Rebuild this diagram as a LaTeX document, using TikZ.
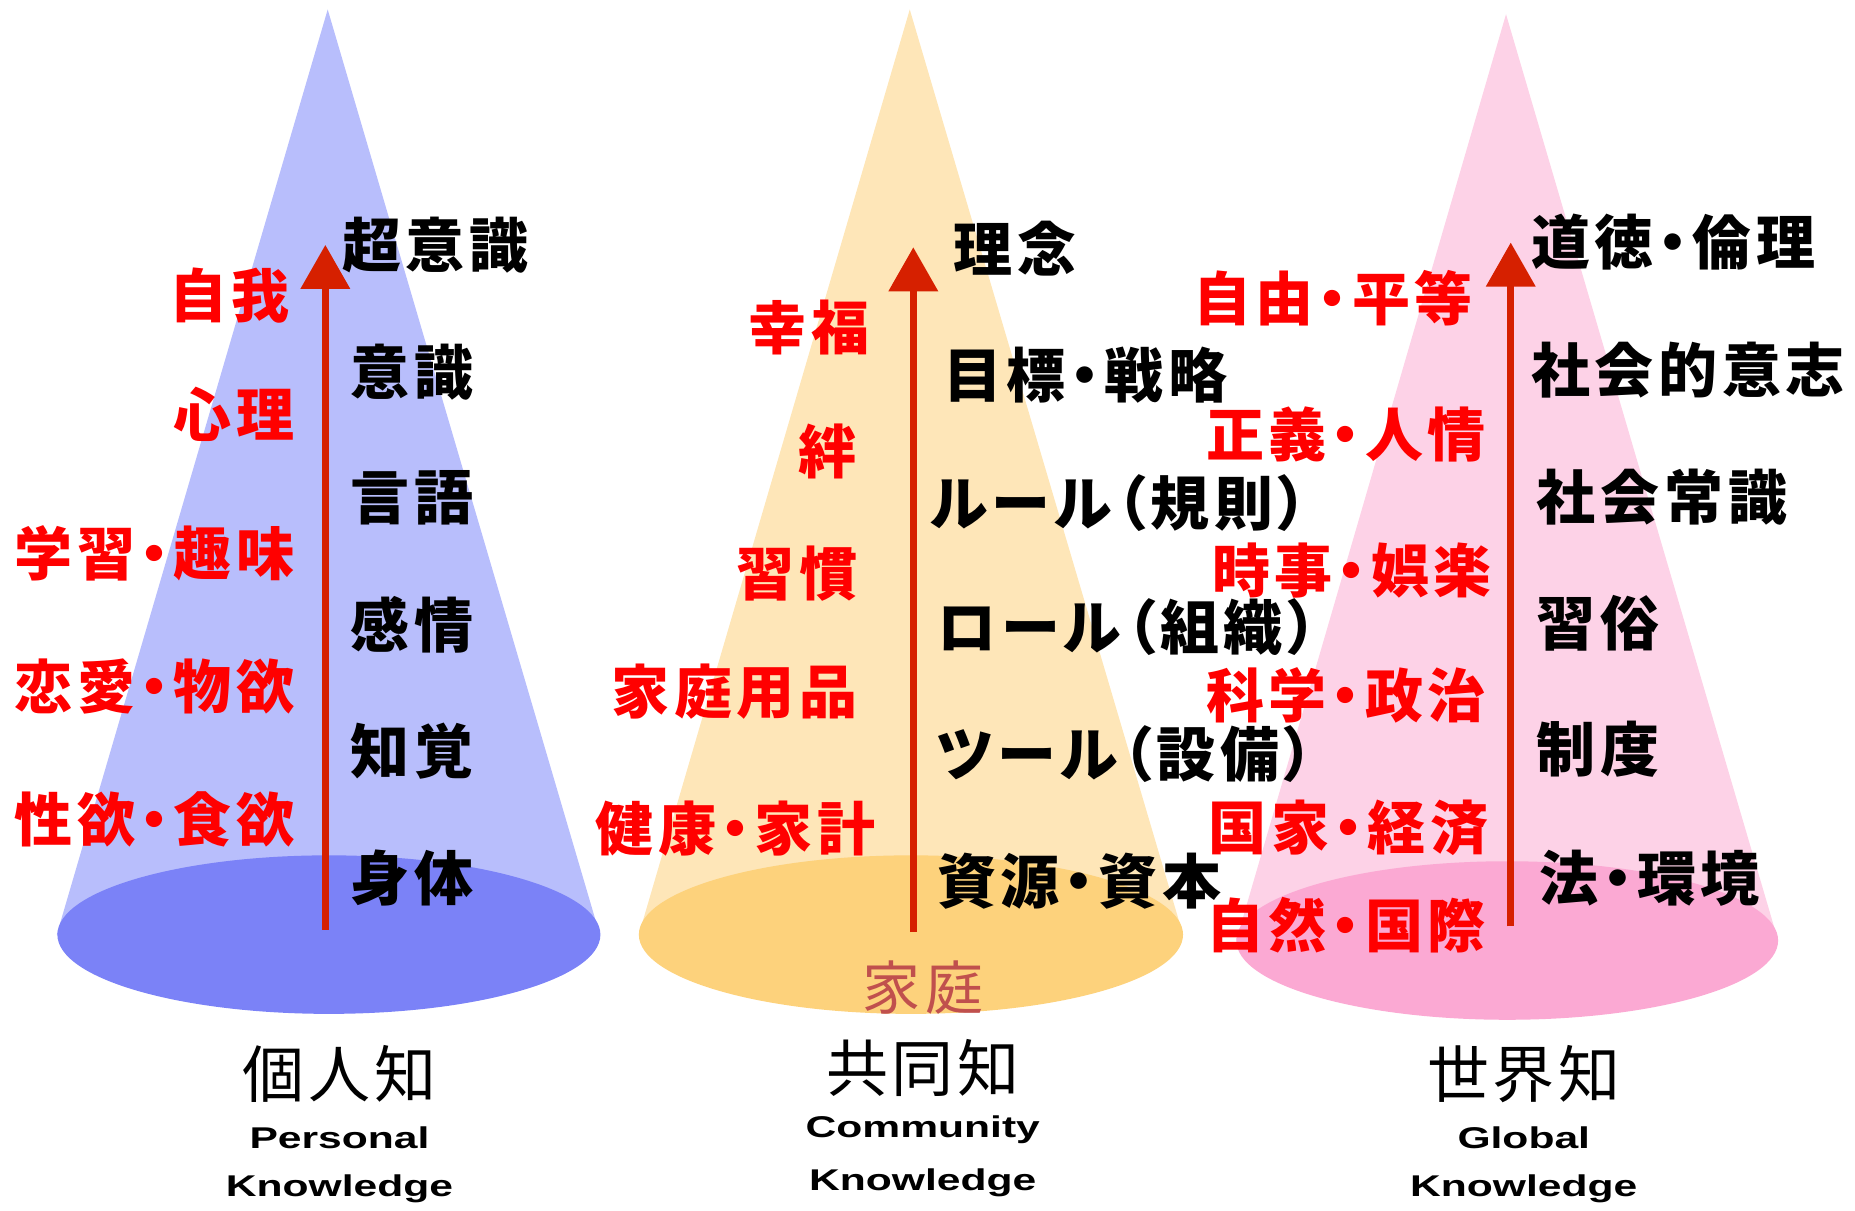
\documentclass[tikz,border=0pt]{standalone}
\usepackage{fontspec}
\usetikzlibrary{arrows.meta}
\newfontfamily\jp[LetterSpace=8,RawFeature=+palt]{Noto Sans CJK JP}
\newfontfamily\jpt[LetterSpace=6]{Noto Sans CJK JP}
\newfontfamily\en{Liberation Sans}
\definecolor{conea}{HTML}{B8BEFC}
\definecolor{basea}{HTML}{7B82F7}
\definecolor{coneb}{HTML}{FEE6B8}
\definecolor{baseb}{HTML}{FDD27C}
\definecolor{conec}{HTML}{FDD2E7}
\definecolor{basec}{HTML}{FBA9D3}
\definecolor{arrred}{HTML}{D62000}
\definecolor{txtred}{HTML}{FF0000}
\definecolor{homec}{HTML}{C0504D}
\begin{document}
\begin{tikzpicture}[x=1.18304pt,y=-1.18304pt,
  redlbl/.style={anchor=east,inner sep=0pt,text=txtred,font=\jp\bfseries\fontsize{58}{60}\selectfont},
  blklbl/.style={anchor=west,inner sep=0pt,text=black,font=\jp\bfseries\fontsize{59}{60}\selectfont},
  title/.style={inner sep=0pt,font=\jpt\fontsize{62}{64}\selectfont},
  sub/.style={inner sep=0pt,xscale=1.42,font=\en\bfseries\fontsize{30}{32}\selectfont},
  arr/.style={draw=arrred,line width=7pt,-{Triangle[width=48pt,length=44pt]}}]
\useasboundingbox (0,0) rectangle (1568,1023);
% cones
\fill[conea] (277,8) -- (48,790) -- (507,790) -- cycle;
\fill[basea] (278,790) ellipse [x radius=229.5, y radius=67];
\fill[coneb] (769,8) -- (540,790) -- (1000,790) -- cycle;
\fill[baseb] (770,790) ellipse [x radius=230, y radius=67];
\fill[conec] (1273,12) -- (1045,795) -- (1503,795) -- cycle;
\fill[basec] (1274,795) ellipse [x radius=229, y radius=67];
% arrows
\coordinate (a1s) at (275,786);
\coordinate (a1e) at (275,207);
\coordinate (a2s) at (772,788);
\coordinate (a2e) at (772,209);
\coordinate (a3s) at (1277,783);
\coordinate (a3e) at (1277,205);
\draw[arr] (a1s) -- (a1e);
\draw[arr] (a2s) -- (a2e);
\draw[arr] (a3s) -- (a3e);
% cone 1
\node[blklbl] (p1) at (289,207) {超意識};
\node[blklbl] (p2) at (296,315) {意識};
\node[blklbl] (p3) at (296,421) {言語};
\node[blklbl] (p4) at (296,528) {感情};
\node[blklbl] (p5) at (296,635) {知覚};
\node[blklbl] (p6) at (296,742) {身体};
\node[redlbl] (r1) at (245,250) {自我};
\node[redlbl] (r2) at (249,350) {心理};
\node[redlbl] (r3) at (249,468) {学習・趣味};
\node[redlbl] (r4) at (249,580) {恋愛・物欲};
\node[redlbl] (r5) at (249,693) {性欲・食欲};
% cone 2
\node[blklbl] (c1) at (806,210) {理念};
\node[blklbl] (c2) at (797,317) {目標・戦略};
\node[blklbl] (c3) at (786,425) {ルール（規則）};
\node[blklbl] (c4) at (792,530) {ロール（組織）};
\node[blklbl] (c5) at (792,637) {ツール（設備）};
\node[blklbl] (c6) at (792,745) {資源・資本};
\node[redlbl] (s1) at (735,277) {幸福};
\node[redlbl] (s2) at (724,382) {絆};
\node[redlbl] (s3) at (725,485) {習慣};
\node[redlbl] (s4) at (725,585) {家庭用品};
\node[redlbl] (s5) at (740,700) {健康・家計};
\node[anchor=west,inner sep=0pt,text=homec,font=\jp\fontsize{58}{60}\selectfont] (home) at (729,835) {家庭};
% cone 3
\node[blklbl] (g1) at (1294,205) {道徳・倫理};
\node[blklbl] (g2) at (1294,313) {社会的意志};
\node[blklbl] (g3) at (1299,420) {社会常識};
\node[blklbl] (g4) at (1299,527) {習俗};
\node[blklbl] (g5) at (1299,633) {制度};
\node[blklbl] (g6) at (1301,742) {法・環境};
\node[redlbl] (t1) at (1245,252) {自由・平等};
\node[redlbl] (t2) at (1256,367) {正義・人情};
\node[redlbl] (t3) at (1261,482) {時事・娯楽};
\node[redlbl] (t4) at (1256,588) {科学・政治};
\node[redlbl] (t5) at (1258,700) {国家・経済};
\node[redlbl] (t6) at (1256,782) {自然・国際};
% titles
\node[title] (k1) at (287,908) {個人知};
\node[sub] (k1a) at (287,962) {Personal};
\node[sub] (k1b) at (287,1005) {Knowledge};
\node[title] (k2) at (780,903) {共同知};
\node[sub] (k2a) at (780,955) {Community};
\node[sub] (k2b) at (780,1000) {Knowledge};
\node[title] (k3) at (1288,908) {世界知};
\node[sub] (k3a) at (1288,962) {Global};
\node[sub] (k3b) at (1288,1005) {Knowledge};
\end{tikzpicture}
\end{document}
